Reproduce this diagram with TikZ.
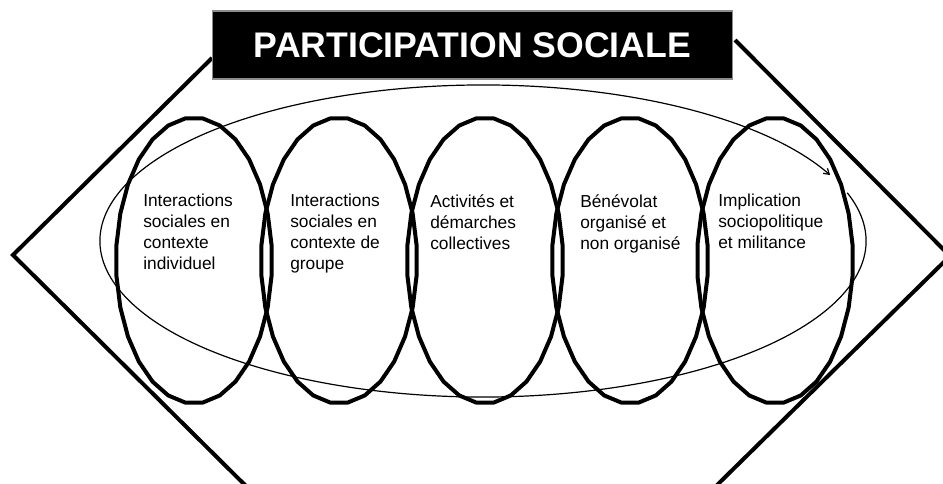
\documentclass[tikz,border=0pt]{standalone}
\usepackage{fontspec}
\setmainfont{Liberation Sans}
\usetikzlibrary{arrows.meta, calc}
\definecolor{boxGrey}{gray}{0.55}

\begin{document}
\begin{tikzpicture}[x=0.75pt, y=-0.75pt,
	hexline/.style={line width=3pt, black},
	ringline/.style={line width=3pt, black, line join=round},
	cycleline/.style={line width=0.9pt, black},
	ringtext/.style={anchor=north west, inner sep=0pt, align=left, font=\fontsize{13}{15.75}\selectfont, execute at begin node=\vphantom{É}}]

	\useasboundingbox (0,0) rectangle (943,484);
	\clip (0,0) rectangle (943,484);

	\coordinate (L) at (13,255);
	\coordinate (R) at (950,256);
	\coordinate (LL) at (250,490);
	\coordinate (RR) at (712,490);
	\coordinate (O) at (483,241);

	% outer frame
	\draw[hexline] (212,58) -- (L) -- (LL);
	\draw[hexline] (735,40) -- (R) -- (RR);

	% big cycle arrow
	\draw[cycleline, -{Straight Barb[length=4pt, width=5pt]}] (O) ++(18:287.25pt and 117pt) arc[start angle=18, end angle=-335, x radius=287.25pt, y radius=117pt];

	% the five spheres (polygons, flat on top and bottom)
	\foreach \cx in {194,339,485,630,775}
		\draw[ringline] plot[domain=96.43:443.57, samples=28] ({\cx+78*cos(\x)}, {260.5+143*sin(\x)}) -- cycle;

	\node[ringtext] (indiv) at (143,194) {Interactions\\sociales en\\contexte\\individuel};
	\node[ringtext] (groupe) at (290,194) {Interactions\\sociales en\\contexte de\\groupe};
	\node[ringtext] (activ) at (430,194) {Activités et\\démarches\\collectives};
	\node[ringtext] (benev) at (580,194) {Bénévolat\\organisé et\\non organisé};
	\node[ringtext] (implic) at (718,194) {Implication\\sociopolitique\\et militance};

	\node[fill=black, draw=boxGrey, line width=1pt, text=white, minimum width=390pt, minimum height=51pt, font=\bfseries\fontsize{26.7}{32}\selectfont] (title) at (472.5,45) {PARTICIPATION SOCIALE};

\end{tikzpicture}
\end{document}
